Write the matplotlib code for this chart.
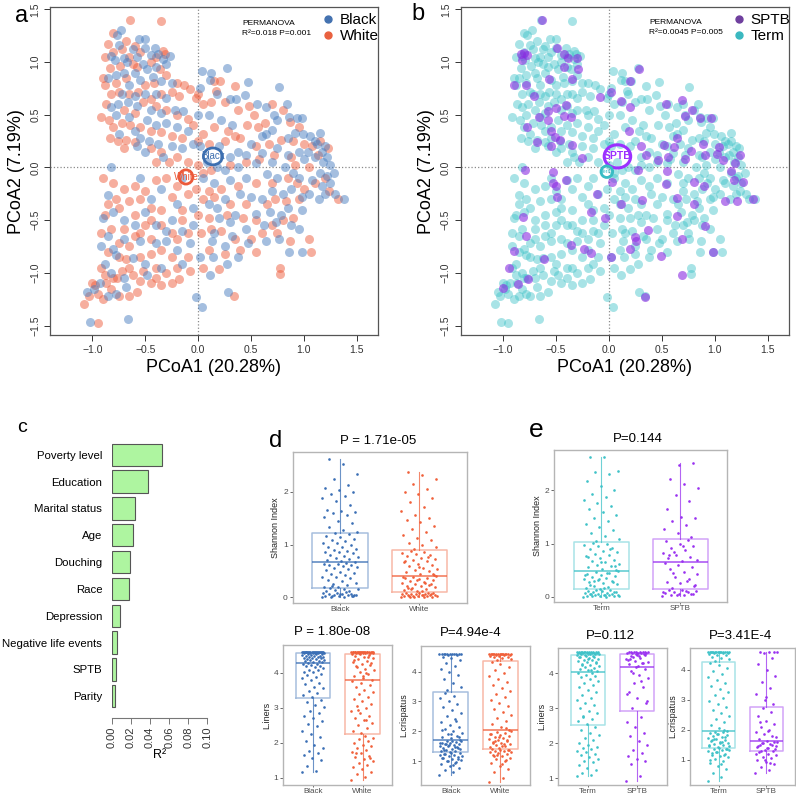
"""
Vaginal microbiome figure: PCoA by race / outcome, PERMANOVA R2 bars,
and Shannon / L.iners / L.crispatus boxplots.
"""

import numpy as np
import matplotlib.pyplot as plt
from matplotlib.lines import Line2D
from matplotlib.patches import Ellipse

plt.rcParams['font.family'] = ['Liberation Sans', 'DejaVu Sans']

# ---------------- data: PCoA coordinates ----------------
black_pts = [
    (-0.73, 1.30), (-0.77, 1.26), (-0.56, 1.22), (-0.50, 1.22), (-0.41, 1.13), (-0.50, 1.13),
    (-0.27, 1.06), (-0.75, 1.16), (-0.82, 1.06), (-0.79, 1.02), (-0.70, 1.04), (-0.67, 1.00),
    (-0.62, 1.12), (-0.58, 1.05), (-0.45, 1.07), (-0.38, 1.08), (-0.33, 1.03), (-0.52, 0.98),
    (-0.48, 0.93), (-0.40, 0.95), (-0.30, 0.98), (-0.60, 0.90), (-0.70, 0.90), (-0.78, 0.88),
    (-0.85, 0.85), (-0.55, 0.83), (-0.43, 0.86), (-0.35, 0.82), (-0.25, 0.80), (-0.65, 0.78),
    (-0.72, 0.70), (-0.60, 0.68), (-0.50, 0.70), (-0.40, 0.70), (-0.30, 0.66), (-0.82, 0.57),
    (-0.76, 0.60), (-0.66, 0.62), (-0.58, 0.58), (-0.45, 0.55), (-0.35, 0.52), (-0.22, 0.55),
    (-0.14, 0.54), (-0.78, 0.50), (-0.65, 0.48), (-0.48, 0.45), (-0.40, 0.40), (-0.30, 0.42),
    (-0.20, 0.38), (-0.10, 0.35), (-0.75, 0.32), (-0.60, 0.35), (-0.55, 0.28), (-0.46, 0.25),
    (-0.38, 0.22), (-0.25, 0.20), (-0.58, 0.20), (-0.50, 0.15), (-0.33, 0.10), (-0.82, 0.00),
    (-0.15, 0.18), (-0.05, 0.22), (0.04, 0.92), (0.12, 0.90), (0.27, 0.94), (0.11, 0.83),
    (0.02, 0.75), (0.47, 0.81), (0.76, 0.76), (0.18, 0.70), (0.30, 0.65), (0.44, 0.69),
    (0.36, 0.65), (0.56, 0.60), (0.64, 0.57), (0.84, 0.60), (0.10, 0.50), (0.00, 0.50),
    (0.32, 0.40), (0.22, 0.45), (0.72, 0.50), (0.75, 0.45), (0.86, 0.48), (0.93, 0.47),
    (0.98, 0.47), (0.92, 0.33), (0.70, 0.36), (0.60, 0.30), (0.50, 0.22), (0.64, 0.32),
    (0.85, 0.28), (0.99, 0.32), (1.06, 0.30), (1.10, 0.25), (1.15, 0.33), (1.12, 0.22),
    (1.20, 0.20), (1.17, 0.15), (1.04, 0.15), (0.95, 0.15), (0.85, 0.12), (0.75, 0.18),
    (0.60, 0.14), (0.45, 0.12), (0.38, 0.15), (0.30, 0.10), (0.20, 0.20), (0.02, 0.20),
    (0.08, 0.05), (0.18, 0.00), (0.25, -0.02), (0.38, 0.00), (0.55, 0.04), (0.70, 0.05),
    (0.82, 0.00), (1.00, 0.08), (1.10, 0.10), (1.18, 0.05), (1.22, 0.10), (1.25, 0.02),
    (1.15, -0.05), (1.22, -0.08), (1.28, -0.05), (1.25, -0.15), (1.17, -0.18), (1.08, -0.12),
    (0.95, -0.10), (0.90, -0.05), (0.75, -0.10), (0.65, -0.06), (0.45, -0.10), (0.30, -0.12),
    (0.15, -0.15), (0.05, -0.10), (1.20, -0.25), (1.29, -0.25), (1.38, -0.30), (1.14, -0.30),
    (1.05, -0.25), (0.98, -0.28), (0.88, -0.20), (0.80, -0.25), (0.70, -0.22), (0.60, -0.30),
    (0.50, -0.28), (0.40, -0.25), (0.25, -0.30), (0.10, -0.35), (-0.05, -0.38), (0.98, -0.40),
    (0.85, -0.38), (0.78, -0.45), (0.68, -0.42), (0.55, -0.44), (0.35, -0.45), (0.18, -0.38),
    (0.95, -0.58), (0.88, -0.55), (0.74, -0.52), (0.62, -0.55), (0.45, -0.58), (0.30, -0.52),
    (0.20, -0.48), (0.15, -0.62), (-0.05, -0.55), (0.47, -0.72), (0.64, -0.70), (0.76, -0.68),
    (0.98, -0.80), (0.86, -0.80), (0.32, -0.65), (0.25, -0.75), (0.13, -0.70), (-0.08, -0.72),
    (0.02, -0.85), (0.14, -0.85), (0.38, -0.85), (0.27, -0.92), (0.11, -1.02), (0.28, -1.18),
    (-0.02, -1.23), (0.04, -1.32), (-0.15, -0.60), (-0.25, -0.50), (-0.30, -0.70), (-0.20, -0.78),
    (-0.15, -0.92), (-0.85, -0.26), (-0.80, -0.42), (-0.90, -0.48), (-0.70, -0.50), (-0.60, -0.55),
    (-0.50, -0.42), (-0.85, -0.65), (-0.70, -0.68), (-0.55, -0.70), (-0.40, -0.72), (-0.30, -0.60),
    (-0.92, -0.75), (-0.80, -0.77), (-0.78, -0.83), (-0.62, -0.86), (-0.50, -0.92), (-0.35, -0.95),
    (-0.88, -0.92), (-0.82, -1.00), (-0.70, -1.05), (-0.48, -1.02), (-1.05, -1.18), (-0.98, -1.15),
    (-0.93, -1.10), (-0.85, -1.22), (-0.78, -1.20), (-0.68, -1.13), (-1.02, -1.47), (-0.66, -1.44),
    (-0.40, -0.55), (-0.20, -0.35), (-0.45, -0.30), (-0.35, -0.20), (-0.15, -0.10), (-0.55, -0.10),
]

white_pts = [
    (-0.64, 1.40), (-0.35, 1.39), (-0.80, 1.28), (-0.85, 1.17), (-0.68, 1.20), (-0.60, 1.15),
    (-0.33, 1.11), (-0.31, 1.08), (-0.40, 1.05), (-0.80, 1.10), (-0.72, 1.12), (-0.88, 1.05),
    (-0.65, 1.05), (-0.55, 1.10), (-0.62, 0.98), (-0.74, 0.96), (-0.83, 0.94), (-0.90, 0.85),
    (-0.88, 0.78), (-0.78, 0.80), (-0.68, 0.85), (-0.58, 0.95), (-0.45, 1.00), (-0.36, 0.93),
    (-0.30, 0.88), (-0.20, 0.80), (-0.13, 0.78), (-0.42, 0.80), (-0.50, 0.78), (-0.57, 0.72),
    (-0.65, 0.70), (-0.75, 0.72), (-0.82, 0.70), (-0.45, 0.65), (-0.35, 0.70), (-0.25, 0.72),
    (-0.18, 0.68), (-0.08, 0.74), (-0.70, 0.55), (-0.60, 0.52), (-0.52, 0.62), (-0.40, 0.58),
    (-0.30, 0.55), (-0.87, 0.60), (-0.92, 0.48), (-0.84, 0.45), (-0.72, 0.42), (-0.64, 0.40),
    (-0.55, 0.38), (-0.45, 0.35), (-0.35, 0.34), (-0.25, 0.30), (-0.15, 0.28), (-0.05, 0.40),
    (-0.10, 0.46), (-0.02, 0.66), (0.00, 0.70), (-0.20, 0.50), (-0.80, 0.38), (-0.76, 0.25),
    (-0.83, 0.28), (-0.68, 0.26), (-0.60, 0.24), (-0.70, 0.18), (-0.45, 0.18), (-0.35, 0.15),
    (-0.28, 0.05), (-0.20, 0.10), (-0.10, 0.05), (-0.40, 0.05), (0.15, 0.82), (0.21, 0.82),
    (0.35, 0.77), (0.17, 0.73), (0.25, 0.62), (0.12, 0.62), (0.05, 0.60), (0.38, 0.55),
    (0.48, 0.58), (0.53, 0.50), (0.63, 0.42), (0.57, 0.38), (0.80, 0.55), (0.70, 0.60),
    (0.87, 0.43), (0.95, 0.38), (0.46, 0.40), (0.35, 0.30), (0.28, 0.35), (0.15, 0.38),
    (0.05, 0.32), (0.00, 0.25), (0.10, 0.22), (0.25, 0.25), (0.40, 0.28), (0.55, 0.20),
    (0.67, 0.22), (0.78, 0.26), (0.90, 0.25), (1.00, 0.22), (1.08, 0.20), (1.15, 0.25),
    (1.23, 0.18), (0.88, 0.10), (0.72, 0.12), (0.58, 0.08), (0.45, 0.05), (0.30, 0.02),
    (0.12, -0.02), (0.00, 0.02), (0.05, -0.05), (0.92, 0.02), (1.05, 0.00), (1.13, 0.12),
    (1.20, -0.10), (1.10, -0.15), (1.00, -0.20), (0.93, -0.15), (0.85, -0.10), (0.70, -0.15),
    (0.55, -0.15), (0.38, -0.18), (0.22, -0.20), (0.10, -0.22), (-0.02, -0.20), (1.24, -0.22),
    (1.32, -0.30), (0.95, -0.30), (0.83, -0.32), (0.73, -0.30), (0.65, -0.35), (0.45, -0.35),
    (0.30, -0.35), (0.15, -0.28), (0.05, -0.30), (0.90, -0.48), (0.80, -0.50), (0.70, -0.55),
    (0.55, -0.50), (0.42, -0.48), (0.27, -0.45), (0.10, -0.48), (0.00, -0.45), (1.05, -0.68),
    (1.07, -0.80), (0.87, -0.70), (0.75, -0.62), (0.60, -0.62), (0.50, -0.68), (0.35, -0.68),
    (0.22, -0.60), (0.12, -0.58), (0.03, -0.62), (0.77, -0.95), (0.77, -1.01), (0.55, -0.80),
    (0.40, -0.78), (0.25, -0.82), (0.10, -0.78), (0.34, -1.22), (0.20, -0.96), (0.05, -0.95),
    (-0.08, -0.98), (-0.18, -1.06), (-0.10, -0.85), (-0.20, -0.68), (-0.10, -0.62), (-0.90, -0.10),
    (-0.80, -0.15), (-0.70, -0.20), (-0.60, -0.18), (-0.50, -0.22), (-0.40, -0.12), (-0.30, -0.10),
    (-0.20, -0.18), (-0.10, -0.25), (-0.85, -0.35), (-0.75, -0.38), (-0.65, -0.32), (-0.55, -0.30),
    (-0.45, -0.38), (-0.35, -0.40), (-0.25, -0.28), (-0.15, -0.40), (-0.70, -0.58), (-0.60, -0.45),
    (-0.45, -0.50), (-0.35, -0.55), (-0.25, -0.62), (-0.15, -0.50), (-0.82, -0.58), (-0.75, -0.72),
    (-0.65, -0.75), (-0.55, -0.62), (-0.45, -0.68), (-0.35, -0.78), (-0.25, -0.85), (-0.85, -0.80),
    (-0.75, -0.85), (-0.65, -0.95), (-0.55, -0.85), (-0.45, -0.82), (-0.40, -0.95), (-0.30, -1.00),
    (-0.20, -0.95), (-0.92, -0.95), (-0.88, -1.02), (-0.80, -1.05), (-0.72, -0.98), (-0.62, -1.02),
    (-0.55, -1.08), (-0.45, -1.10), (-0.35, -1.12), (-0.25, -1.10), (-1.00, -1.10), (-0.95, -1.20),
    (-0.90, -1.25), (-0.82, -1.15), (-0.75, -1.22), (-0.65, -1.22), (-0.58, -1.18), (-1.08, -1.30),
    (-1.03, -1.22), (-0.95, -1.48), (-0.97, -1.12), (-0.87, -1.10), (-0.77, -1.05), (-0.60, -0.65),
    (-0.50, -0.55), (-0.88, -0.45), (-0.78, -0.30), (-0.92, -0.62), (-0.68, -0.87), (-0.52, -0.98),
    (-0.40, -1.05),
]

# samples from SPTB pregnancies; the rest are Term
sptb_pts = [
    (-0.63, 1.40), (-0.83, 1.08), (-0.80, 1.09), (-0.77, 1.07), (-0.82, 1.02), (-0.49, 1.13),
    (-0.42, 1.08), (-0.39, 1.04), (-0.30, 1.04), (-0.29, 0.93), (0.28, 0.93), (0.20, 0.82),
    (-0.42, 0.95), (-0.35, 0.84), (-0.57, 0.84), (-0.90, 0.78), (-0.78, 0.78), (-0.71, 0.68),
    (0.02, 0.72), (-0.08, 0.67), (0.11, 0.63), (0.20, 0.57), (-0.41, 0.59), (-0.50, 0.56),
    (-0.58, 0.54), (-0.66, 0.48), (-0.58, 0.45), (-0.42, 0.49), (-0.36, 0.48), (-0.77, 0.38),
    (-0.55, 0.35), (-0.51, 0.29), (-0.68, 0.24), (-0.55, 0.20), (-0.46, 0.26), (-0.35, 0.21),
    (-0.25, 0.09), (-0.79, -0.02), (-0.53, -0.04), (-0.41, -0.12), (-0.53, -0.15), (-0.50, -0.18),
    (-0.49, -0.28), (-0.11, -0.25), (-0.17, -0.42), (-0.81, -0.47), (-0.78, -0.65), (-0.61, -0.87),
    (-0.90, -0.79), (-0.94, -0.95), (-0.86, -1.11), (-1.00, -1.14), (-0.76, -1.06), (-0.36, -0.74),
    (-0.24, -0.77), (-0.17, -0.81), (0.02, -0.85), (0.20, -0.77), (0.25, -0.66), (0.26, -0.70),
    (0.37, -0.59), (0.49, -0.84), (0.69, -0.68), (0.69, -1.02), (0.34, -1.23), (0.11, -0.35),
    (0.31, -0.31), (0.54, -0.16), (0.55, -0.03), (0.27, -0.02), (0.19, 0.35), (0.30, 0.20),
    (0.35, 0.12), (0.46, 0.07), (0.56, 0.10), (0.52, 0.21), (0.61, 0.19), (0.64, 0.28),
    (0.54, 0.60), (0.69, 0.64), (0.78, 0.55), (0.72, 0.49), (0.86, 0.47), (0.96, 0.47),
    (0.89, 0.22), (0.77, 0.16), (0.72, 0.08), (0.91, 0.12), (1.02, 0.13), (1.04, 0.19),
    (1.08, 0.07), (1.19, 0.04), (1.24, 0.12), (1.15, -0.03), (1.18, -0.12), (1.27, -0.14),
    (1.21, -0.32), (1.10, -0.32), (1.36, -0.30), (0.80, -0.14), (0.90, -0.18), (0.64, -0.29),
    (0.80, -0.35), (0.64, -0.46), (0.91, -0.56), (0.98, -0.80), (-0.04, -0.48), (0.03, -0.14),
]

# group centroids (x, y) and ellipse size (w, h)
centroid_black = (0.14, 0.105, 0.18, 0.16)
centroid_white = (-0.115, -0.09, 0.13, 0.135)
centroid_sptb = (0.08, 0.105, 0.25, 0.22)
centroid_term = (-0.02, -0.04, 0.11, 0.11)

# ---------------- data: PERMANOVA R2 per factor ----------------
factors = ["Poverty level", "Education", "Marital status", "Age", "Douching",
           "Race", "Depression", "Negative life events", "SPTB", "Parity"]
r2_values = [0.052, 0.0375, 0.0245, 0.0225, 0.019, 0.018, 0.0088, 0.0057, 0.0045, 0.003]

# ---------------- data: boxplots (q1, median, q3, whisker low, whisker high) ----------------
shannon_black_stats = (0.18, 0.66, 1.21, 0.0, 2.62)
shannon_white_stats = (0.10, 0.41, 0.89, 0.0, 2.37)
shannon_term_stats = (0.14, 0.49, 1.02, 0.0, 2.63)
shannon_sptb_stats = (0.14, 0.66, 1.08, 0.02, 2.52)
liners_black_stats = (3.29, 4.29, 4.57, 1.18, 4.60)
liners_white_stats = (2.24, 3.78, 4.54, 0.95, 4.60)
liners_term_stats = (2.51, 4.03, 4.52, 1.05, 4.60)
liners_sptb_stats = (2.92, 4.19, 4.54, 0.92, 4.60)
crisp_black_stats = (1.29, 1.70, 3.33, 0.55, 4.60)
crisp_white_stats = (1.42, 2.03, 4.36, 0.30, 4.60)
crisp_term_stats = (1.39, 1.94, 4.26, 0.30, 4.60)
crisp_sptb_stats = (1.28, 1.61, 2.76, 0.55, 4.60)

shannon_black = [
    0.00, 0.01, 0.01, 0.02, 0.03, 0.03, 0.04, 0.05, 0.05, 0.06, 0.07, 0.07, 0.08, 0.09, 0.10,
    0.02, 0.04, 0.06, 0.11, 0.12, 0.14, 0.15, 0.16, 0.17, 0.03, 0.19, 0.20, 0.24, 0.26, 0.27,
    0.31, 0.32, 0.36, 0.38, 0.39, 0.42, 0.45, 0.46, 0.48, 0.52, 0.53, 0.55, 0.58, 0.59, 0.61,
    0.62, 0.63, 0.64, 0.65, 0.22, 0.67, 0.68, 0.70, 0.72, 0.74, 0.77, 0.78, 0.80, 0.84, 0.85,
    0.86, 0.88, 0.90, 0.92, 0.95, 0.96, 1.00, 1.02, 1.03, 1.06, 1.08, 1.10, 1.14, 1.17, 1.20,
    1.22, 1.24, 1.28, 1.33, 1.40, 1.45, 1.52, 1.56, 1.60, 1.62, 1.64, 1.66, 1.75, 1.82, 1.88,
    1.92, 1.96, 1.99, 2.04, 2.08, 2.12, 2.25, 2.33, 2.52, 2.62,
]
shannon_white = [
    0.00, 0.00, 0.01, 0.01, 0.02, 0.02, 0.03, 0.03, 0.04, 0.04, 0.05, 0.05, 0.06, 0.06, 0.07,
    0.07, 0.08, 0.08, 0.09, 0.09, 0.01, 0.03, 0.05, 0.02, 0.06, 0.11, 0.13, 0.15, 0.17, 0.19,
    0.21, 0.22, 0.24, 0.26, 0.27, 0.29, 0.31, 0.32, 0.34, 0.36, 0.37, 0.39, 0.40, 0.12, 0.18,
    0.25, 0.33, 0.38, 0.28, 0.16, 0.42, 0.44, 0.47, 0.49, 0.52, 0.54, 0.56, 0.59, 0.61, 0.63,
    0.66, 0.68, 0.71, 0.73, 0.75, 0.78, 0.80, 0.82, 0.84, 0.86, 0.88, 0.45, 0.57, 0.69, 0.77,
    0.91, 0.95, 0.99, 1.03, 1.08, 1.12, 1.18, 1.24, 1.30, 1.36, 1.42, 1.47, 1.50, 1.56, 1.64,
    1.72, 1.80, 1.88, 1.95, 2.00, 2.06, 2.15, 2.25, 2.32, 2.37,
]
shannon_term = [
    0.00, 0.00, 0.01, 0.01, 0.02, 0.02, 0.03, 0.03, 0.04, 0.04, 0.05, 0.05, 0.06, 0.07, 0.07,
    0.08, 0.09, 0.10, 0.11, 0.12, 0.13, 0.02, 0.04, 0.06, 0.08, 0.15, 0.17, 0.19, 0.21, 0.23,
    0.25, 0.27, 0.29, 0.31, 0.33, 0.35, 0.37, 0.39, 0.41, 0.43, 0.45, 0.47, 0.48, 0.16, 0.22,
    0.28, 0.34, 0.40, 0.44, 0.30, 0.50, 0.52, 0.55, 0.57, 0.60, 0.62, 0.65, 0.68, 0.70, 0.73,
    0.76, 0.78, 0.81, 0.84, 0.86, 0.89, 0.92, 0.95, 0.98, 1.00, 1.01, 0.58, 0.66, 0.74, 0.90,
    1.05, 1.09, 1.14, 1.20, 1.25, 1.31, 1.36, 1.42, 1.48, 1.54, 1.60, 1.65, 1.70, 1.76, 1.82,
    1.88, 1.94, 2.00, 2.08, 2.18, 2.30, 2.35, 2.37, 2.63, 2.63,
]
shannon_sptb = [
    0.02, 0.03, 0.04, 0.05, 0.06, 0.07, 0.08, 0.09, 0.10, 0.12, 0.13, 0.05, 0.03, 0.08, 0.11,
    0.16, 0.20, 0.25, 0.28, 0.33, 0.38, 0.42, 0.47, 0.52, 0.56, 0.60, 0.64, 0.30, 0.45, 0.22,
    0.68, 0.72, 0.75, 0.79, 0.83, 0.87, 0.92, 0.96, 1.00, 1.04, 1.07, 0.85, 0.70, 0.95, 0.78,
    1.12, 1.20, 1.28, 1.35, 1.42, 1.48, 1.50, 1.65, 1.80, 1.92, 2.05, 2.12, 2.22, 2.52, 2.48,
]
liners_black = [
    1.18, 1.21, 1.35, 1.50, 1.58, 1.66, 1.70, 1.77, 1.86, 1.95, 2.04, 2.16, 2.26, 2.33, 2.47,
    2.55, 2.61, 2.71, 2.78, 2.86, 2.91, 3.02, 3.07, 3.16, 3.22, 3.31, 3.36, 3.43, 3.48, 3.56,
    3.60, 3.67, 3.72, 3.79, 3.84, 3.88, 3.93, 3.96, 4.01, 4.03, 4.07, 4.09, 4.13, 4.15, 4.18,
    4.20, 4.22, 4.25, 4.26, 4.28, 4.30, 4.31, 4.33, 4.34, 4.36, 4.37, 4.39, 4.40, 4.41, 4.42,
    4.43, 4.44, 4.45, 4.46, 4.47, 4.48, 4.49, 4.50, 4.51, 4.52, 4.53, 4.54, 4.55, 4.55, 4.56,
    4.56, 4.57, 4.57, 4.58, 4.58, 4.58, 4.59, 4.59, 4.59, 4.59, 4.60, 4.60, 4.60, 4.60, 4.60,
    4.60, 4.60, 4.60, 4.60, 4.60, 4.60, 4.60, 4.60, 4.60, 4.60,
]
liners_white = [
    0.95, 1.02, 1.10, 1.18, 1.25, 1.30, 1.38, 1.42, 1.48, 1.55, 1.60, 1.64, 1.70, 1.75, 1.80,
    1.86, 1.90, 1.95, 2.00, 2.05, 2.10, 2.15, 2.20, 1.72, 1.58, 2.28, 2.35, 2.42, 2.50, 2.58,
    2.64, 2.70, 2.78, 2.85, 2.92, 3.00, 3.06, 3.12, 3.18, 3.25, 3.32, 3.40, 3.46, 3.52, 3.58,
    3.64, 3.70, 3.75, 2.66, 2.95, 3.80, 3.85, 3.90, 3.96, 4.02, 4.08, 4.12, 4.18, 4.22, 4.26,
    4.30, 4.34, 4.38, 4.41, 4.44, 4.47, 4.50, 4.52, 4.53, 4.00, 4.15, 4.28, 3.92, 4.36, 4.45,
    4.55, 4.56, 4.56, 4.57, 4.57, 4.58, 4.58, 4.58, 4.59, 4.59, 4.59, 4.59, 4.60, 4.60, 4.60,
    4.60, 4.60, 4.60, 4.60, 4.60, 4.60, 4.60, 4.60, 4.60, 4.60,
]
liners_term = [
    1.05, 1.08, 1.15, 1.22, 1.30, 1.38, 1.45, 1.50, 1.55, 1.60, 1.65, 1.70, 1.74, 1.78, 1.82,
    1.86, 1.90, 1.95, 2.00, 2.08, 2.15, 2.22, 2.30, 2.38, 2.46, 2.55, 2.62, 2.70, 2.78, 2.85,
    2.92, 3.00, 3.08, 3.15, 3.22, 3.30, 3.38, 3.45, 3.52, 3.60, 3.66, 3.72, 3.78, 3.84, 3.88,
    3.92, 3.96, 4.00, 4.02, 2.75, 4.05, 4.08, 4.11, 4.14, 4.17, 4.20, 4.23, 4.26, 4.29, 4.32,
    4.35, 4.37, 4.39, 4.41, 4.43, 4.45, 4.47, 4.49, 4.51, 4.10, 4.24, 4.33, 4.40, 4.46, 4.50,
    4.53, 4.54, 4.55, 4.56, 4.56, 4.57, 4.57, 4.58, 4.58, 4.58, 4.59, 4.59, 4.59, 4.60, 4.60,
    4.60, 4.60, 4.60, 4.60, 4.60, 4.60, 4.60, 4.60, 4.60, 4.60,
]
liners_sptb = [
    0.92, 1.05, 1.40, 1.48, 1.55, 1.62, 1.72, 1.80, 1.95, 2.05, 2.20, 2.30, 2.45, 2.60, 2.75,
    3.00, 3.15, 3.30, 3.45, 3.60, 3.72, 3.85, 3.95, 4.05, 4.12, 4.18, 3.40, 3.78, 4.00, 3.20,
    4.21, 4.25, 4.30, 4.35, 4.40, 4.44, 4.48, 4.51, 4.53, 4.38, 4.28, 4.46, 4.33, 4.50, 4.42,
    4.55, 4.56, 4.57, 4.58, 4.58, 4.59, 4.59, 4.60, 4.60, 4.60, 4.60, 4.60, 4.60, 4.60, 4.60,
]
crisp_black = [
    0.55, 0.62, 0.70, 0.78, 0.85, 0.90, 0.95, 1.00, 1.04, 1.08, 1.12, 1.15, 1.18, 1.20, 1.22,
    1.24, 1.26, 1.28, 1.10, 0.98, 1.02, 1.16, 0.88, 1.25, 1.06, 1.30, 1.33, 1.35, 1.38, 1.40,
    1.42, 1.45, 1.47, 1.50, 1.52, 1.54, 1.56, 1.58, 1.60, 1.62, 1.64, 1.66, 1.68, 1.69, 1.36,
    1.44, 1.53, 1.61, 1.48, 1.57, 1.72, 1.76, 1.80, 1.85, 1.90, 1.95, 2.00, 2.08, 2.15, 2.22,
    2.30, 2.40, 2.50, 2.60, 2.70, 2.80, 2.90, 3.00, 3.10, 3.20, 3.30, 1.82, 1.92, 2.05, 2.35,
    3.40, 3.50, 3.62, 3.75, 3.88, 3.98, 4.08, 4.18, 4.28, 4.38, 4.45, 4.50, 4.55, 4.57, 4.58,
    4.59, 4.60, 4.60, 4.60, 4.60, 4.60, 4.60, 4.60, 4.60, 4.60,
]
crisp_white = [
    0.30, 0.45, 0.62, 0.75, 0.85, 0.95, 1.02, 1.08, 1.12, 1.16, 1.20, 1.24, 1.27, 1.30, 1.33,
    1.35, 1.37, 1.39, 1.41, 1.05, 1.22, 1.32, 0.90, 1.18, 1.38, 1.44, 1.48, 1.52, 1.55, 1.58,
    1.62, 1.65, 1.68, 1.72, 1.75, 1.78, 1.82, 1.85, 1.88, 1.92, 1.95, 1.98, 2.01, 1.50, 1.60,
    1.70, 1.80, 1.90, 1.56, 1.66, 2.06, 2.15, 2.25, 2.35, 2.45, 2.55, 2.65, 2.75, 2.85, 2.95,
    3.05, 3.15, 3.25, 3.35, 3.45, 3.55, 3.65, 3.75, 3.85, 3.95, 4.05, 4.15, 4.25, 4.32, 2.10,
    4.38, 4.42, 4.45, 4.48, 4.50, 4.52, 4.54, 4.55, 4.56, 4.57, 4.58, 4.58, 4.59, 4.59, 4.60,
    4.60, 4.60, 4.60, 4.60, 4.60, 4.60, 4.60, 4.60, 4.60, 4.60,
]
crisp_term = [
    0.30, 0.42, 0.55, 0.68, 0.78, 0.88, 0.95, 1.02, 1.08, 1.12, 1.16, 1.20, 1.24, 1.28, 1.31,
    1.34, 1.36, 1.38, 1.00, 1.14, 1.26, 1.33, 0.85, 1.22, 1.37, 1.41, 1.45, 1.48, 1.52, 1.55,
    1.58, 1.62, 1.65, 1.68, 1.72, 1.75, 1.78, 1.82, 1.85, 1.88, 1.91, 1.93, 1.46, 1.56, 1.66,
    1.76, 1.86, 1.50, 1.60, 1.70, 1.97, 2.05, 2.15, 2.25, 2.35, 2.45, 2.55, 2.65, 2.75, 2.85,
    2.95, 3.05, 3.15, 3.25, 3.35, 3.45, 3.55, 3.65, 3.75, 3.85, 3.95, 4.05, 4.15, 4.22, 2.00,
    4.30, 4.35, 4.40, 4.44, 4.48, 4.51, 4.53, 4.55, 4.56, 4.57, 4.58, 4.58, 4.59, 4.59, 4.60,
    4.60, 4.60, 4.60, 4.60, 4.60, 4.60, 4.60, 4.60, 4.60, 4.60,
]
crisp_sptb = [
    0.55, 0.65, 0.75, 0.85, 0.92, 0.98, 1.05, 1.10, 1.15, 1.20, 1.25, 1.27, 1.00, 1.18, 0.88,
    1.30, 1.35, 1.40, 1.45, 1.50, 1.55, 1.60, 1.38, 1.48, 1.58, 1.32, 1.42, 1.52, 1.56, 1.44,
    1.63, 1.70, 1.78, 1.85, 1.92, 2.00, 2.10, 2.20, 2.30, 2.45, 2.60, 2.72, 1.75, 1.95, 2.25,
    2.85, 3.00, 3.20, 3.40, 3.60, 3.80, 4.00, 4.20, 4.40, 4.55, 4.58, 4.60, 4.60, 4.60, 3.10,
]

# ---------------- colours ----------------
BLUE, RED = "#4a7fc0", "#ee5e3e"
TEAL, PURPLE = "#3fc2c8", "#8a2be2"

W, H = 796, 798
fig = plt.figure(figsize=(W / 100, H / 100), dpi=100)


def rect(left, top, right, bottom):
    # pixel box -> figure fraction
    return [left / W, 1 - bottom / H, (right - left) / W, (bottom - top) / H]


def fpos(x, y):
    return x / W, 1 - y / H


def pcoa_axes(box):
    ax = fig.add_axes(box)
    ax.set_xlim(-1.40, 1.70)
    ax.set_ylim(-1.59, 1.52)
    ax.axhline(0, color="#8a8a8a", ls=":", lw=0.9, zorder=1)
    ax.axvline(0, color="#8a8a8a", ls=":", lw=0.9, zorder=1)
    ticks = [-1.0, -0.5, 0.0, 0.5, 1.0, 1.5]
    ax.set_xticks(ticks)
    ax.set_xticklabels([f"{t:.1f}".replace("-", "\u2212") for t in ticks])
    yt = [-1.5, -1.0, -0.5, 0.0, 0.5, 1.0, 1.5]
    ax.set_yticks(yt)
    ax.set_yticklabels([f"{t:.1f}".replace("-", "\u2212") for t in yt],
                       rotation=90, va="center")
    ax.tick_params(labelsize=7.5, colors="#333333", length=4, width=0.7, pad=3)
    for s in ax.spines.values():
        s.set_color("#555555")
        s.set_linewidth(0.9)
    ax.set_xlabel("PCoA1 (20.28%)", fontsize=13, labelpad=3)
    ax.set_ylabel("PCoA2 (7.19%)", fontsize=13, labelpad=4)
    return ax


def centroid(ax, c, color, label, size, lw=2, weight="normal"):
    ax.add_patch(Ellipse((c[0], c[1]), c[2], c[3], fill=False, ec=color, lw=lw, zorder=5))
    ax.text(c[0], c[1], label, color=color, fontsize=size, ha="center", va="center",
            weight=weight, zorder=6)


# ---------------- panel a ----------------
bx = np.array(black_pts)
wx = np.array(white_pts)
sp = np.array(sptb_pts)

ax_a = pcoa_axes(rect(50, 7.3, 378, 335))
ax_a.scatter(wx[:, 0], wx[:, 1], s=42, color=RED, alpha=0.5, lw=0, zorder=2)
ax_a.scatter(bx[:, 0], bx[:, 1], s=42, color=BLUE, alpha=0.5, lw=0, zorder=2)
centroid(ax_a, centroid_black, "#3d6fb0", "Black", 7)
centroid(ax_a, centroid_white, "#ec5a3a", "White", 7)
ax_a.text(0.585, 0.962, "PERMANOVA\nR\u00b2=0.018 P=0.001", transform=ax_a.transAxes,
          fontsize=6, va="top", ha="left", linespacing=1.6)
ax_a.legend(handles=[Line2D([], [], ls="", marker="o", ms=5, color="#4472b0"),
                     Line2D([], [], ls="", marker="o", ms=5, color="#e9613f")],
            labels=["Black", "White"], loc="upper left", bbox_to_anchor=(0.80, 1.01),
            frameon=False, fontsize=11, handlelength=0.8, handletextpad=0.4,
            labelspacing=0.15, borderaxespad=0.2)
fig.text(*fpos(22, 16), "a", fontsize=17, ha="center", va="center")

# ---------------- panel b ----------------
ax_b = pcoa_axes(rect(460.7, 7.3, 789, 335))
ax_b.scatter(np.r_[wx[:, 0], bx[:, 0]], np.r_[wx[:, 1], bx[:, 1]], s=42, color=TEAL,
             alpha=0.45, lw=0, zorder=2)
ax_b.scatter(sp[:, 0], sp[:, 1], s=42, color=PURPLE, alpha=0.6, lw=0, zorder=3)
centroid(ax_b, centroid_sptb, "#9b30ff", "SPTB", 7.5, lw=2.2, weight="bold")
centroid(ax_b, centroid_term, "#38bcc4", "Term", 4)
ax_b.text(0.574, 0.965, "PERMANOVA\nR\u00b2=0.0045 P=0.005", transform=ax_b.transAxes,
          fontsize=6, va="top", ha="left", linespacing=1.6)
ax_b.legend(handles=[Line2D([], [], ls="", marker="o", ms=5, color="#6f3f9e"),
                     Line2D([], [], ls="", marker="o", ms=5, color="#3ab8c0")],
            labels=["SPTB", "Term"], loc="upper left", bbox_to_anchor=(0.80, 1.01),
            frameon=False, fontsize=11, handlelength=0.8, handletextpad=0.4,
            labelspacing=0.15, borderaxespad=0.2)
fig.text(*fpos(418, 14), "b", fontsize=17, ha="center", va="center")

# ---------------- panel c ----------------
ax_c = fig.add_axes(rect(112, 440, 207.3, 718))
ax_c.barh(range(len(factors)), r2_values, height=0.83, color="#aef5a0",
          edgecolor="#555555", lw=0.8)
ax_c.set_xlim(0, 0.10)
ax_c.set_ylim(9.81, -0.55)
ax_c.set_yticks(range(len(factors)))
ax_c.set_yticklabels(factors, fontsize=8.2)
ax_c.tick_params(axis="y", length=0, pad=7)
ax_c.set_xticks([0, 0.02, 0.04, 0.06, 0.08, 0.10])
ax_c.set_xticklabels(["0.00", "0.02", "0.04", "0.06", "0.08", "0.10"], rotation=90, fontsize=8)
ax_c.tick_params(axis="x", length=4, width=0.7, color="#777777", labelcolor="#333333", pad=2)
for s in ["top", "right", "left"]:
    ax_c.spines[s].set_visible(False)
ax_c.spines["bottom"].set_color("#777777")
ax_c.spines["bottom"].set_bounds(0, 0.10)
ax_c.set_xlabel("R\u00b2", fontsize=9, labelpad=1)
fig.text(*fpos(22, 427), "c", fontsize=14, ha="center", va="center")


# ---------------- boxplot panels (d, e) ----------------
def box_panel(box, names, colors, stats, values, ylim, yticks, ylabel, title, title_xy):
    ax = fig.add_axes(box)
    for i in range(2):
        v = np.array(values[i])
        jit = ((np.arange(len(v)) * 0.618034) % 1.0 - 0.5) * 0.46
        ax.scatter(i + 1 + jit, v, s=3.6, color=colors[i], lw=0, zorder=3)
        q1, med, q3, lo, hi = stats[i]
        ax.bxp([dict(med=med, q1=q1, q3=q3, whislo=lo, whishi=hi, fliers=[])],
               positions=[i + 1], widths=0.7, showfliers=False, showcaps=False,
               boxprops=dict(color=colors[i], alpha=0.45, lw=1.1),
               whiskerprops=dict(color=colors[i], alpha=0.75, lw=0.8),
               medianprops=dict(color=colors[i], alpha=0.8, lw=1.2))
    ax.set_xlim(0.4, 2.6)
    ax.set_ylim(*ylim)
    ax.set_xticks([1, 2])
    ax.set_xticklabels(names)
    ax.set_yticks(yticks)
    ax.tick_params(labelsize=6, colors="#4d4d4d", length=2, width=0.6, pad=1.5)
    ax.tick_params(axis="x", labelsize=5.8, length=1.5, pad=0.8)
    for s in ax.spines.values():
        s.set_color("#b5b5b5")
        s.set_linewidth(1)
    ax.set_ylabel(ylabel, fontsize=6.5, labelpad=2, color="#222222")
    fig.text(*fpos(*title_xy), title, fontsize=9.5, ha="center", va="center")
    return ax


race = ["Black", "White"]
race_col = ["#3b6fb5", "#f0603a"]
outc = ["Term", "SPTB"]
outc_col = [TEAL, "#9a32f0"]

box_panel(rect(292.7, 451.7, 466.7, 603.3), race, race_col,
          [shannon_black_stats, shannon_white_stats], [shannon_black, shannon_white],
          (-0.114, 2.76), [0, 1, 2], "Shannon Index", "P = 1.71e-05", (378, 441))
box_panel(rect(283.3, 645, 392.3, 785), race, race_col,
          [liners_black_stats, liners_white_stats], [liners_black, liners_white],
          (0.80, 4.79), [1, 2, 3, 4], "L.iners", "P = 1.80e-08", (332, 632))
box_panel(rect(421, 646, 530, 785), race, race_col,
          [crisp_black_stats, crisp_white_stats], [crisp_black, crisp_white],
          (0.20, 4.86), [1, 2, 3, 4], "L.crispatus", "P=4.94e-4", (471, 633))
fig.text(*fpos(276, 441), "d", fontsize=17, ha="center", va="center")

box_panel(rect(554.3, 450, 727.3, 602.3), outc, outc_col,
          [shannon_term_stats, shannon_sptb_stats], [shannon_term, shannon_sptb],
          (-0.105, 2.76), [0, 1, 2], "Shannon Index", "P=0.144", (638, 439))
box_panel(rect(558.3, 647.7, 666.7, 785), outc, outc_col,
          [liners_term_stats, liners_sptb_stats], [liners_term, liners_sptb],
          (0.80, 4.73), [1, 2, 3, 4], "L.iners", "P=0.112", (610, 636))
box_panel(rect(690, 647.7, 795, 785), outc, outc_col,
          [crisp_term_stats, crisp_sptb_stats], [crisp_term, crisp_sptb],
          (0.15, 4.74), [1, 2, 3, 4], "L.crispatus", "P=3.41E-4", (740, 636))
fig.text(*fpos(536, 430), "e", fontsize=19, ha="center", va="center")

fig.savefig("out.png", dpi=100)
